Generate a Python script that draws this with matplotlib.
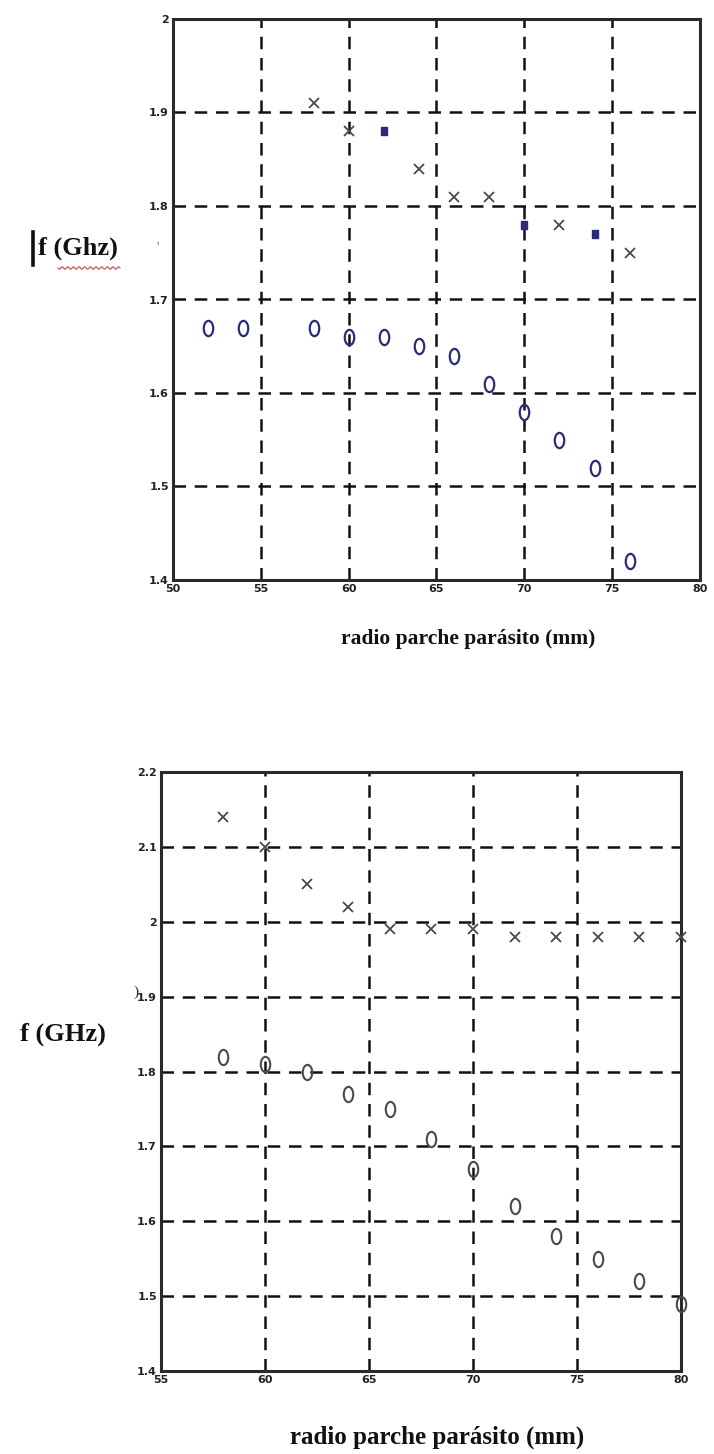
import numpy as np
import matplotlib
matplotlib.use("Agg")
import matplotlib.pyplot as plt
from matplotlib.path import Path
from matplotlib.lines import Line2D
import matplotlib.transforms as mtransforms

# ---- upper panel data ----
top_radius_low = [52, 54, 58, 60, 62, 64, 66, 68, 70, 72, 74, 76]
top_freq_low = [1.67, 1.67, 1.67, 1.66, 1.66, 1.65, 1.64, 1.61, 1.58, 1.55, 1.52, 1.42]
top_radius_cross = [58, 60, 64, 66, 68, 72, 76]
top_freq_cross = [1.91, 1.88, 1.84, 1.81, 1.81, 1.78, 1.75]
top_radius_dot = [62, 70, 74]
top_freq_dot = [1.88, 1.78, 1.77]
top_xticks = [50, 55, 60, 65, 70, 75, 80]
top_yticks = [1.4, 1.5, 1.6, 1.7, 1.8, 1.9, 2.0]
top_yticklabels = ["1.4", "1.5", "1.6", "1.7", "1.8", "1.9", "2"]

# ---- lower panel data ----
bot_radius = [58, 60, 62, 64, 66, 68, 70, 72, 74, 76, 78, 80]
bot_freq_high = [2.14, 2.10, 2.05, 2.02, 1.99, 1.99, 1.99, 1.98, 1.98, 1.98, 1.98, 1.98]
bot_freq_low = [1.82, 1.81, 1.80, 1.77, 1.75, 1.71, 1.67, 1.62, 1.58, 1.55, 1.52, 1.49]
bot_xticks = [55, 60, 65, 70, 75, 80]
bot_yticks = [1.4, 1.5, 1.6, 1.7, 1.8, 1.9, 2.0, 2.1, 2.2]
bot_yticklabels = ["1.4", "1.5", "1.6", "1.7", "1.8", "1.9", "2", "2.1", "2.2"]

NAVY = "#2b2b78"
GREY = "#4a4a4a"
SERIF = ["Liberation Serif", "DejaVu Serif"]

# tall narrow ring used for the "o" points
ring = Path.unit_circle().transformed(mtransforms.Affine2D().scale(0.62, 1.0))
# small upright block for the filled points
block = Path.unit_rectangle().transformed(mtransforms.Affine2D().translate(-0.5, -0.5).scale(0.7, 1.0))

fig = plt.figure(figsize=(7.14, 14.54), dpi=100)
fig.patch.set_facecolor("white")


def style_axes(ax, xlim, ylim, xticks, yticks, yticklabels):
    ax.set_xlim(*xlim)
    ax.set_ylim(*ylim)
    ax.set_xticks(xticks)
    ax.set_xticklabels([str(t) for t in xticks])
    ax.set_yticks(yticks)
    ax.set_yticklabels(yticklabels)
    ax.tick_params(axis="both", length=0, pad=3, labelsize=8, labelcolor="#222222")
    for lab in ax.get_xticklabels() + ax.get_yticklabels():
        lab.set_fontweight("bold")
    for sp in ax.spines.values():
        sp.set_linewidth(2.2)
        sp.set_color("#2a2a2a")
    ax.grid(True, color="#111111", linestyle=(0, (5, 3.5)), linewidth=1.8)
    ax.set_axisbelow(True)


# ---------------- upper panel ----------------
ax1 = fig.add_axes([173 / 714, 1 - 580 / 1454, 527 / 714, 561 / 1454])
style_axes(ax1, (50, 80), (1.4, 2.0), top_xticks, top_yticks, top_yticklabels)
ax1.plot(top_radius_low, top_freq_low, linestyle="none", marker=ring, markersize=11,
         markerfacecolor="none", markeredgecolor=NAVY, markeredgewidth=1.6, zorder=3)
ax1.plot(top_radius_cross, top_freq_cross, linestyle="none", marker="x", markersize=6.5,
         color=GREY, markeredgewidth=1.3, zorder=3)
ax1.plot(top_radius_dot, top_freq_dot, linestyle="none", marker=block, markersize=6,
         color=NAVY, zorder=3)

fig.text(468 / 714, 1 - 639 / 1454, "radio parche parásito (mm)", ha="center", va="center",
         family=SERIF, fontweight="bold", fontsize=15.5, color="#111111")
fig.text(38 / 714, 1 - 248 / 1454, "f (Ghz)", ha="left", va="center",
         family=SERIF, fontweight="bold", fontsize=19, color="#111111")
# text cursor bar in front of the label
fig.add_artist(Line2D([33 / 714, 33 / 714], [1 - 232 / 1454, 1 - 265 / 1454],
                      color="#111111", linewidth=2.6))
# red wavy spell-check underline below "Ghz"
wx = np.linspace(58, 120, 120)
wy = 268 + 1.2 * np.sin((wx - 58) / 62 * 2 * np.pi * 11)
fig.add_artist(Line2D(wx / 714, 1 - wy / 1454, color="#d04040", linewidth=0.8))
fig.text(158 / 714, 1 - 248 / 1454, "'", ha="center", va="center",
         family=SERIF, fontsize=10, color="#777777")

# ---------------- lower panel ----------------
ax2 = fig.add_axes([161 / 714, 1 - 1371 / 1454, 520 / 714, 599 / 1454])
style_axes(ax2, (55, 80), (1.4, 2.2), bot_xticks, bot_yticks, bot_yticklabels)
ax2.plot(bot_radius, bot_freq_low, linestyle="none", marker=ring, markersize=11,
         markerfacecolor="none", markeredgecolor=GREY, markeredgewidth=1.5, zorder=3,
         clip_on=False)
ax2.plot(bot_radius, bot_freq_high, linestyle="none", marker="x", markersize=6.5,
         color=GREY, markeredgewidth=1.3, zorder=3, clip_on=False)

fig.text(437 / 714, 1 - 1437 / 1454, "radio parche parásito (mm)", ha="center", va="center",
         family=SERIF, fontweight="bold", fontsize=18, color="#111111")
fig.text(20 / 714, 1 - 1034 / 1454, "f (GHz)", ha="left", va="center",
         family=SERIF, fontweight="bold", fontsize=19, color="#111111")
fig.text(136 / 714, 1 - 992 / 1454, ")", ha="center", va="center",
         family=SERIF, fontsize=11, color="#333333")

fig.savefig("out.png", dpi=100, facecolor="white")
